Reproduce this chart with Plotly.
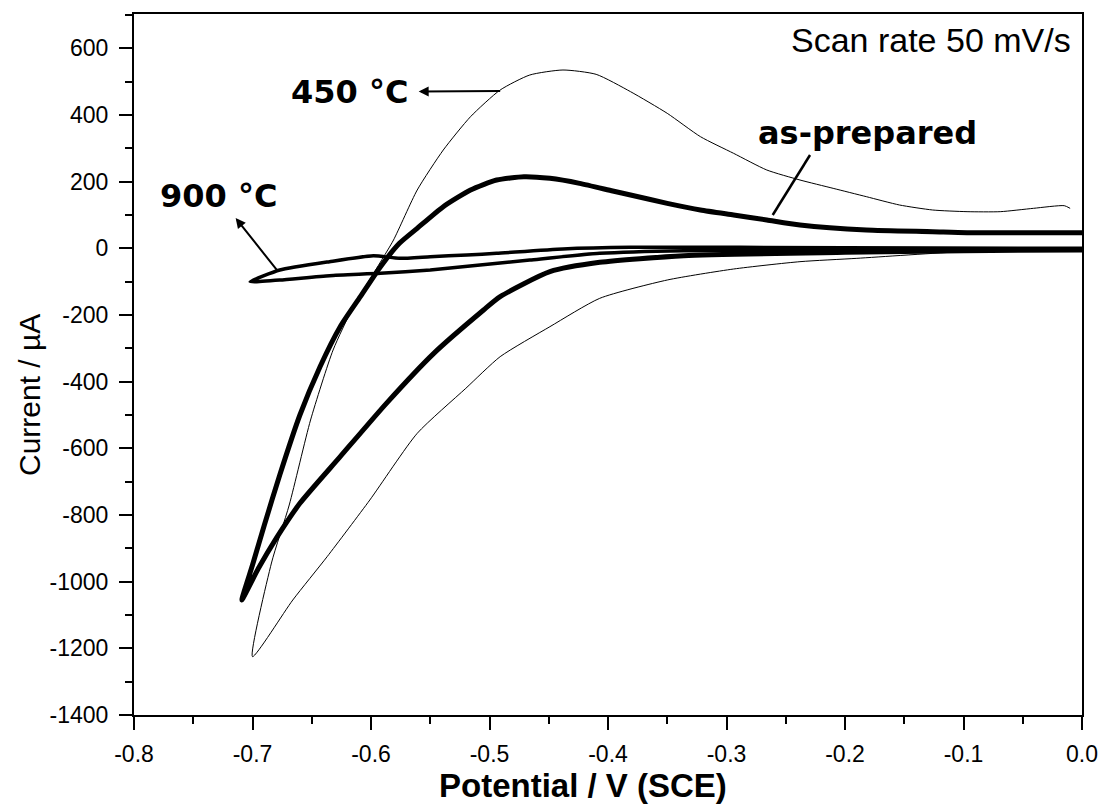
import plotly.graph_objects as go

# 450 oC (thin line): cathodic branch then anodic branch
x450 = [-0.01, -0.10, -0.19, -0.238, -0.294, -0.35, -0.407, -0.449, -0.491, -0.52, -0.561,
        -0.601, -0.637, -0.666, -0.70,
        -0.684, -0.669, -0.651, -0.632, -0.615, -0.592, -0.581, -0.561, -0.539, -0.516,
        -0.491, -0.466, -0.438, -0.41, -0.381, -0.35, -0.322, -0.294, -0.266, -0.238,
        -0.21, -0.182, -0.154, -0.126, -0.097, -0.069, -0.041, -0.015, -0.01]
y450 = [-5, -10, -30, -40, -62, -95, -150, -235, -325, -420, -555,
        -755, -925, -1055, -1225,
        -944, -770, -515, -305, -176, -41, 25, 175, 295, 395,
        475, 520, 535, 522, 470, 405, 335, 285, 235, 205,
        180, 155, 130, 115, 110, 110, 120, 128, 120]

# as-prepared (thick line)
xprep = [0.0, -0.10, -0.20, -0.336, -0.407, -0.449, -0.491, -0.505, -0.547, -0.587,
         -0.626, -0.660, -0.680, -0.695, -0.709,
         -0.700, -0.690, -0.677, -0.660, -0.643, -0.626, -0.609, -0.592,
         -0.576, -0.561, -0.539, -0.516, -0.494, -0.471, -0.449, -0.424, -0.396, -0.381,
         -0.35, -0.322, -0.294, -0.266, -0.238, -0.182, -0.126, -0.097, 0.0]
yprep = [-5, -7, -12, -22, -42, -70, -145, -185, -315, -465,
         -625, -765, -870, -960, -1055,
         -950, -830, -680, -500, -355, -235, -145, -55,
         15, 60, 125, 175, 205, 215, 210, 195, 172, 160,
         135, 115, 100, 85, 70, 55, 50, 47, 47]

# 900 oC (medium line)
x900 = [0.0, -0.20, -0.381, -0.438, -0.494, -0.519, -0.55, -0.576, -0.598, -0.635, -0.677, -0.702,
        -0.677, -0.635, -0.592, -0.55, -0.508, -0.466, -0.407, -0.336, -0.20, 0.0]
y900 = [0, 2, 3, -2, -15, -20, -25, -30, -22, -40, -65, -100,
        -95, -82, -75, -65, -50, -35, -15, -7, -5, -5]

x_ticks = [-0.8, -0.7, -0.6, -0.5, -0.4, -0.3, -0.2, -0.1, 0.0]
x_ticklabels = ["-0.8", "-0.7", "-0.6", "-0.5", "-0.4", "-0.3", "-0.2", "-0.1", "0.0"]
y_ticks = [-1400, -1200, -1000, -800, -600, -400, -200, 0, 200, 400, 600]
y_ticklabels = ["-1400", "-1200", "-1000", "-800", "-600", "-400", "-200", "0", "200", "400", "600"]

FONT = "Liberation Sans, Arial, sans-serif"
BFONT = "DejaVu Sans, Verdana, sans-serif"

fig = go.Figure()
fig.add_trace(go.Scatter(x=x450, y=y450, mode="lines",
                         line=dict(color="black", width=1, shape="spline", smoothing=0.6), name="450 °C"))
fig.add_trace(go.Scatter(x=x900, y=y900, mode="lines",
                         line=dict(color="black", width=3.5, shape="spline", smoothing=0.5), name="900 °C"))
fig.add_trace(go.Scatter(x=xprep, y=yprep, mode="lines",
                         line=dict(color="black", width=5, shape="spline", smoothing=0.6), name="as-prepared"))

fig.update_layout(
    width=1104, height=809,
    margin=dict(l=134, r=22, t=14, b=94, autoexpand=False),
    paper_bgcolor="white", plot_bgcolor="white",
    showlegend=False,
    font=dict(family=FONT, color="black", size=23),
    xaxis=dict(range=[-0.8, 0.0], tickvals=x_ticks, ticktext=x_ticklabels, automargin=False,
               showgrid=False, zeroline=False, showline=True, linecolor="black", linewidth=2,
               mirror=True, ticks="outside", ticklen=13, tickwidth=2, tickcolor="black",
               minor=dict(ticks="outside", ticklen=7, tickwidth=2, tickcolor="black", dtick=0.05, showgrid=False),
               tickfont=dict(size=23), ticklabelstandoff=4),
    yaxis=dict(range=[-1400, 703], tickvals=y_ticks, ticktext=y_ticklabels, automargin=False,
               showgrid=False, zeroline=False, showline=True, linecolor="black", linewidth=2,
               mirror=True, ticks="outside", ticklen=13, tickwidth=2, tickcolor="black",
               minor=dict(ticks="outside", ticklen=7, tickwidth=2, tickcolor="black", dtick=100, showgrid=False),
               tickfont=dict(size=23), ticklabelstandoff=6),
)

annots = [
    # axis titles
    dict(text="<b>Potential / V (SCE)</b>", xref="paper", yref="paper", x=0.4736, y=-0.0999,
         showarrow=False, font=dict(size=33, family=FONT), xanchor="center", yanchor="middle"),
    dict(text="Current / µA", xref="paper", yref="paper", x=-0.1097, y=0.4565, textangle=-90,
         showarrow=False, font=dict(size=30, family=FONT), xanchor="center", yanchor="middle"),
    # scan rate
    dict(text="Scan rate 50 mV/s", xref="paper", yref="y", x=0.9905, y=625,
         showarrow=False, font=dict(size=34, family=FONT), xanchor="right", yanchor="middle"),
    # labels with arrows (arrowhead at the label side)
    dict(text="<b>450 °C</b>", ax=-0.618, ay=469, axref="x", ayref="y",
         x=-0.491, y=472, showarrow=True, arrowside="start", startarrowhead=2, startarrowsize=1,
         arrowwidth=2, arrowcolor="black", startstandoff=9, standoff=0,
         font=dict(size=32, family=BFONT)),
    dict(text="<b>900 °C</b>", ax=-0.729, ay=157, axref="x", ayref="y",
         x=-0.679, y=-67, showarrow=True, arrowside="start", startarrowhead=2, startarrowsize=1,
         arrowwidth=2, arrowcolor="black", startstandoff=2, standoff=0,
         font=dict(size=32, family=BFONT)),
    dict(text="<b>as-prepared</b>", x=-0.181, y=346, showarrow=False, font=dict(size=32, family=BFONT)),
]
fig.update_layout(annotations=annots)

# connector line for the as-prepared label
fig.add_shape(type="line", x0=-0.261, y0=100, x1=-0.2295, y1=280, xref="x", yref="y",
              line=dict(color="black", width=2.5))

fig.write_html("out.html", post_script="document.body.style.margin='0';",
               config={"displayModeBar": False})
